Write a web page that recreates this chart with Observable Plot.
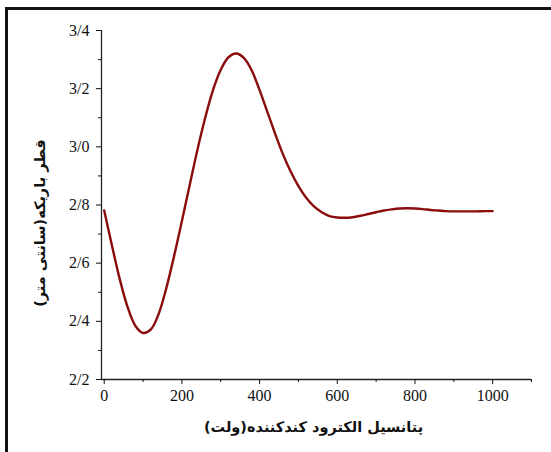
<!DOCTYPE html>
<html>
<head>
<meta charset="utf-8">
<script src="https://cdn.jsdelivr.net/npm/d3@7"></script>
<script src="https://cdn.jsdelivr.net/npm/@observablehq/plot@0.6"></script>
<style>
  html, body { margin: 0; padding: 0; background: #fff; }
  #wrap { position: relative; width: 551px; height: 452px; overflow: hidden; background: #fff; }
  #frame { position: absolute; left: 5px; top: 7px; width: 600px; height: 500px;
           border-left: 3px solid #111; border-top: 3px solid #111; box-sizing: border-box; }
  #chart { position: absolute; left: 0; top: 0; }
  #chart svg text { font-family: "Liberation Serif", serif; }
  #chart svg text.fa { font-family: "DejaVu Sans", sans-serif; font-weight: bold; }
</style>
</head>
<body>
<div id="wrap"><div id="frame"></div><div id="chart"></div></div>
<script>
// Data
const voltage = [0, 20, 40, 60, 80, 100, 120, 140, 160, 180, 200, 220, 240, 260, 280, 300, 320, 340, 360, 380, 400, 420, 440, 460, 480, 500, 520, 540, 560, 580, 600, 620, 640, 660, 680, 700, 720, 740, 760, 780, 800, 820, 840, 860, 880, 900, 920, 940, 960, 980, 1000];
const diameter = [2.781, 2.66, 2.545, 2.45, 2.385, 2.36, 2.372, 2.425, 2.515, 2.625, 2.745, 2.868, 2.99, 3.10, 3.195, 3.265, 3.308, 3.321, 3.305, 3.262, 3.195, 3.12, 3.045, 2.975, 2.915, 2.865, 2.825, 2.795, 2.775, 2.762, 2.757, 2.756, 2.758, 2.763, 2.769, 2.775, 2.781, 2.785, 2.788, 2.789, 2.788, 2.786, 2.783, 2.781, 2.779, 2.778, 2.778, 2.778, 2.778, 2.779, 2.779];

const xTicks = [0, 200, 400, 600, 800, 1000];
const xTickLabels = ["0", "200", "400", "600", "800", "1000"];
const xMinorTicks = [100, 300, 500, 700, 900, 1100];
const yTicks = [2.2, 2.4, 2.6, 2.8, 3.0, 3.2, 3.4];
const yTickLabels = ["2/2", "2/4", "2/6", "2/8", "3/0", "3/2", "3/4"];
const yMinorTicks = [2.3, 2.5, 2.7, 2.9, 3.1, 3.3];
const xTitle = "پتانسیل الکترود کندکننده(ولت)";
const yTitle = "قطر باریکه(سانتی متر)";

const series = voltage.map((v, i) => ({v, d: diameter[i]}));
const xMin = -7, xMax = 1100, yMin = 2.2, yMax = 3.4;
const RLM = "\u200F";

const chart = Plot.plot({
  width: 551,
  height: 452,
  marginLeft: 101,
  marginRight: 20,
  marginTop: 30,
  marginBottom: 73,
  x: {domain: [xMin, xMax]},
  y: {domain: [yMin, yMax]},
  style: {fontSize: "16px", background: "transparent", color: "#111"},
  marks: [
    Plot.ruleX([xMin], {stroke: "#222", strokeWidth: 1.3}),
    Plot.ruleY([yMin], {stroke: "#222", strokeWidth: 1.3}),
    Plot.axisX(xMinorTicks, {tickSize: 3, tickFormat: () => "", label: null}),
    Plot.axisX(xTicks, {tickSize: 5, tickPadding: 5, fontSize: 16,
      tickFormat: d => xTickLabels[xTicks.indexOf(d)], label: null}),
    Plot.axisY(yMinorTicks, {tickSize: 3, tickFormat: () => "", label: null}),
    Plot.axisY(yTicks, {tickSize: 5, tickPadding: 7, fontSize: 16,
      tickFormat: d => yTickLabels[yTicks.indexOf(d)], label: null}),
    Plot.line(series, {x: "v", y: "d", stroke: "#8a0c0c", strokeWidth: 2.4, curve: "catmull-rom"}),
    Plot.text([xTitle], {text: d => d + RLM, frameAnchor: "bottom", textAnchor: "middle", dy: 52, dx: -3,
      fontSize: 14.5, fill: "#111"}),
    Plot.text([yTitle], {text: d => RLM + d + RLM, frameAnchor: "left", textAnchor: "middle", dx: -61, dy: 18, rotate: -90,
      fontSize: 14.5, fill: "#111"})
  ]
});

d3.select(chart).selectAll("text").each(function() {
  if (/[\u0600-\u06FF]/.test(this.textContent)) this.classList.add("fa");
});

document.getElementById("chart").appendChild(chart);
</script>
</body>
</html>
